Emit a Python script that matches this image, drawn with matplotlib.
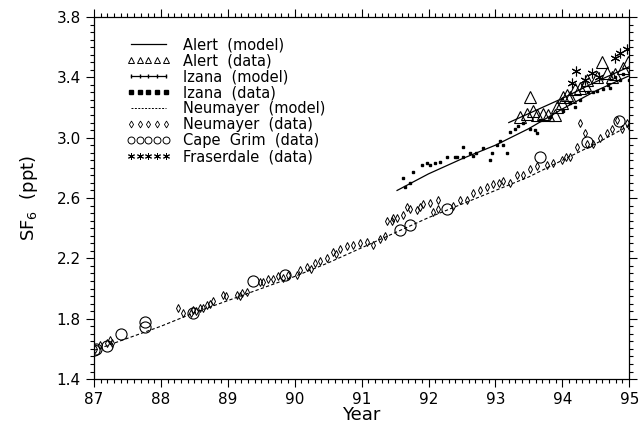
import numpy as np
import matplotlib
matplotlib.use("Agg")
import matplotlib.pyplot as plt
from matplotlib.lines import Line2D
from matplotlib.ticker import MultipleLocator, FixedLocator

plt.rcParams['font.family'] = ['DejaVu Sans']

# model curves
alert_mod_x = [93.2, 93.5, 94.0, 94.5, 95.0]
alert_mod_y = [3.10, 3.16, 3.26, 3.37, 3.47]
izana_mod_x = [91.53, 92.0, 92.5, 93.0, 93.5, 94.0, 94.5, 95.0]
izana_mod_y = [2.65, 2.76, 2.86, 2.95, 3.06, 3.19, 3.31, 3.41]
neu_mod_x = [87.0, 87.5, 88.0, 88.5, 89.0, 89.5, 90.0, 90.5, 91.0, 91.5,
             92.0, 92.5, 93.0, 93.5, 94.0, 94.5, 95.0]
neu_mod_y = [1.59, 1.67, 1.75, 1.84, 1.92, 2.00, 2.08, 2.17, 2.27, 2.37,
             2.47, 2.56, 2.65, 2.74, 2.85, 2.96, 3.08]

# station data
alert_x = [93.37, 93.47, 93.52, 93.56, 93.62, 93.71, 93.79, 93.89, 93.92, 94.0,
           94.01, 94.07, 94.12, 94.19, 94.27, 94.34, 94.37, 94.52, 94.6, 94.67,
           94.75, 94.79, 94.91, 94.98]
alert_y = [3.14, 3.16, 3.27, 3.18, 3.15, 3.16, 3.15, 3.15, 3.20, 3.23,
           3.27, 3.28, 3.27, 3.32, 3.33, 3.35, 3.38, 3.40, 3.50, 3.43,
           3.40, 3.42, 3.46, 3.50]

izana_x = [91.62, 91.65, 91.72, 91.77, 91.9, 91.98, 92.02, 92.1, 92.17, 92.28,
           92.4, 92.43, 92.52, 92.52, 92.62, 92.66, 92.71, 92.82, 92.92, 92.95,
           93.02, 93.07, 93.12, 93.17, 93.22, 93.29, 93.34, 93.41, 93.52, 93.59,
           93.62, 93.67, 93.82, 94.01, 94.12, 94.19, 94.27, 94.38, 94.46, 94.52,
           94.61, 94.68, 94.71, 94.79, 94.87, 94.91, 95.0]
izana_y = [2.73, 2.67, 2.70, 2.77, 2.82, 2.83, 2.82, 2.83, 2.84, 2.87,
           2.87, 2.87, 2.94, 2.87, 2.90, 2.88, 2.90, 2.93, 2.85, 2.90,
           2.95, 2.98, 2.95, 2.90, 3.04, 3.06, 3.08, 3.10, 3.06, 3.05,
           3.03, 3.12, 3.14, 3.18, 3.23, 3.20, 3.25, 3.30, 3.30, 3.31,
           3.32, 3.35, 3.33, 3.40, 3.38, 3.42, 3.38]

neu_x = [87.02, 87.09, 87.19, 87.24, 87.27, 88.26, 88.33, 88.45, 88.48, 88.52,
         88.58, 88.63, 88.69, 88.74, 88.78, 88.93, 88.98, 89.14, 89.18, 89.21,
         89.28, 89.48, 89.53, 89.6, 89.68, 89.75, 89.82, 89.9, 90.03, 90.08,
         90.18, 90.24, 90.3, 90.38, 90.48, 90.57, 90.62, 90.68, 90.78, 90.87,
         90.98, 91.08, 91.17, 91.27, 91.35, 91.38, 91.45, 91.47, 91.53, 91.62,
         91.68, 91.72, 91.83, 91.87, 91.92, 92.02, 92.07, 92.14, 92.14, 92.37,
         92.47, 92.58, 92.67, 92.77, 92.87, 92.96, 93.05, 93.12, 93.22, 93.32,
         93.41, 93.52, 93.62, 93.77, 93.86, 94.0, 94.06, 94.12, 94.22, 94.27,
         94.34, 94.37, 94.46, 94.56, 94.67, 94.74, 94.82, 94.9, 94.97, 95.0]
neu_y = [1.60, 1.625, 1.64, 1.66, 1.64, 1.87, 1.84, 1.84, 1.86, 1.85,
         1.87, 1.87, 1.89, 1.90, 1.92, 1.96, 1.95, 1.96, 1.95, 1.97,
         1.98, 2.04, 2.04, 2.06, 2.06, 2.08, 2.07, 2.09, 2.09, 2.12,
         2.14, 2.13, 2.17, 2.18, 2.20, 2.24, 2.23, 2.26, 2.28, 2.29,
         2.30, 2.31, 2.29, 2.33, 2.35, 2.45, 2.45, 2.47, 2.47, 2.49,
         2.54, 2.53, 2.52, 2.54, 2.56, 2.57, 2.51, 2.59, 2.53, 2.55,
         2.59, 2.59, 2.63, 2.65, 2.67, 2.69, 2.70, 2.71, 2.70, 2.75,
         2.75, 2.79, 2.81, 2.82, 2.83, 2.85, 2.87, 2.87, 2.94, 3.10,
         3.03, 2.96, 2.96, 3.00, 3.03, 3.06, 3.12, 3.06, 3.10, 3.08]

cape_x = [87.0, 87.03, 87.2, 87.4, 87.76, 87.76, 88.48, 89.38, 89.86, 91.57,
          91.72, 92.28, 93.67, 94.37, 94.85]
cape_y = [1.59, 1.60, 1.62, 1.70, 1.78, 1.745, 1.84, 2.05, 2.09, 2.39,
          2.42, 2.53, 2.87, 2.97, 3.11]

fraser_x = [94.14, 94.2, 94.34, 94.44, 94.55, 94.79, 94.87, 94.97]
fraser_y = [3.36, 3.44, 3.38, 3.43, 3.40, 3.53, 3.56, 3.59]

y_ticks = [1.4, 1.8, 2.2, 2.6, 3.0, 3.4, 3.8]

fig = plt.figure(figsize=(6.44, 4.24), dpi=100)
ax = fig.add_axes([0.146, 0.106, 0.831, 0.854])

ax.plot(alert_mod_x, alert_mod_y, '-', color='black', lw=0.9)
ax.plot(izana_mod_x, izana_mod_y, '-', color='black', lw=0.9)
ax.plot(neu_mod_x, neu_mod_y, '--', color='black', lw=0.8, dashes=(3, 2))
ax.plot(alert_x, alert_y, '^', mfc='none', mec='black', ms=8, mew=0.8, ls='none')
ax.plot(izana_x, izana_y, 's', color='black', ms=2, ls='none')
ax.plot(neu_x, neu_y, 'd', mfc='none', mec='black', ms=4, mew=0.7, ls='none')
ax.plot(cape_x, cape_y, 'o', mfc='none', mec='black', ms=8, mew=0.8, ls='none')
ax.plot(fraser_x, fraser_y, marker=(6, 2, 0), color='black', ms=7, mew=0.8, ls='none')

ax.set_xlim(87, 95)
ax.set_ylim(1.4, 3.8)
ax.xaxis.set_major_locator(MultipleLocator(1))
ax.xaxis.set_minor_locator(MultipleLocator(0.1))
ax.yaxis.set_major_locator(FixedLocator(y_ticks))
ax.yaxis.set_minor_locator(MultipleLocator(0.05))
ax.xaxis.set_major_formatter(plt.FuncFormatter(lambda v, p: '%d' % round(v)))
ax.yaxis.set_major_formatter(plt.FuncFormatter(lambda v, p: '%.1f' % v))
ax.tick_params(which='both', direction='out', top=True, right=True,
               labelsize=11, width=0.8)
ax.tick_params(which='major', length=6)
ax.tick_params(which='minor', length=3)
for s in ax.spines.values():
    s.set_linewidth(0.9)

ax.set_xlabel('Year', fontsize=13, labelpad=-1)
ax.set_ylabel('SF$_6$  (ppt)', fontsize=13, labelpad=12)

handles = [
    Line2D([], [], color='black', lw=0.9),
    Line2D([], [], marker='^', mfc='none', mec='black', ms=5, mew=0.7, ls='none'),
    Line2D([], [], color='black', lw=0.9, marker='|', ms=3),
    Line2D([], [], marker='s', color='black', ms=2.5, ls='none'),
    Line2D([], [], color='black', lw=0.7, ls=(0, (2, 1.5))),
    Line2D([], [], marker='d', mfc='none', mec='black', ms=3.5, mew=0.6, ls='none'),
    Line2D([], [], marker='o', mfc='none', mec='black', ms=5, mew=0.7, ls='none'),
    Line2D([], [], marker=(6, 2, 0), color='black', ms=5, mew=0.7, ls='none'),
]
labels = ['Alert  (model)', 'Alert  (data)', 'Izana  (model)', 'Izana  (data)',
          'Neumayer  (model)', 'Neumayer  (data)', 'Cape  Grim  (data)',
          'Fraserdale  (data)']
ax.legend(handles, labels, loc='upper left', bbox_to_anchor=(0.05, 0.96),
          frameon=False, fontsize=10.5, numpoints=5, handlelength=3.0,
          handletextpad=0.9, labelspacing=0.07, borderaxespad=0)

fig.savefig('out.png', dpi=100)
